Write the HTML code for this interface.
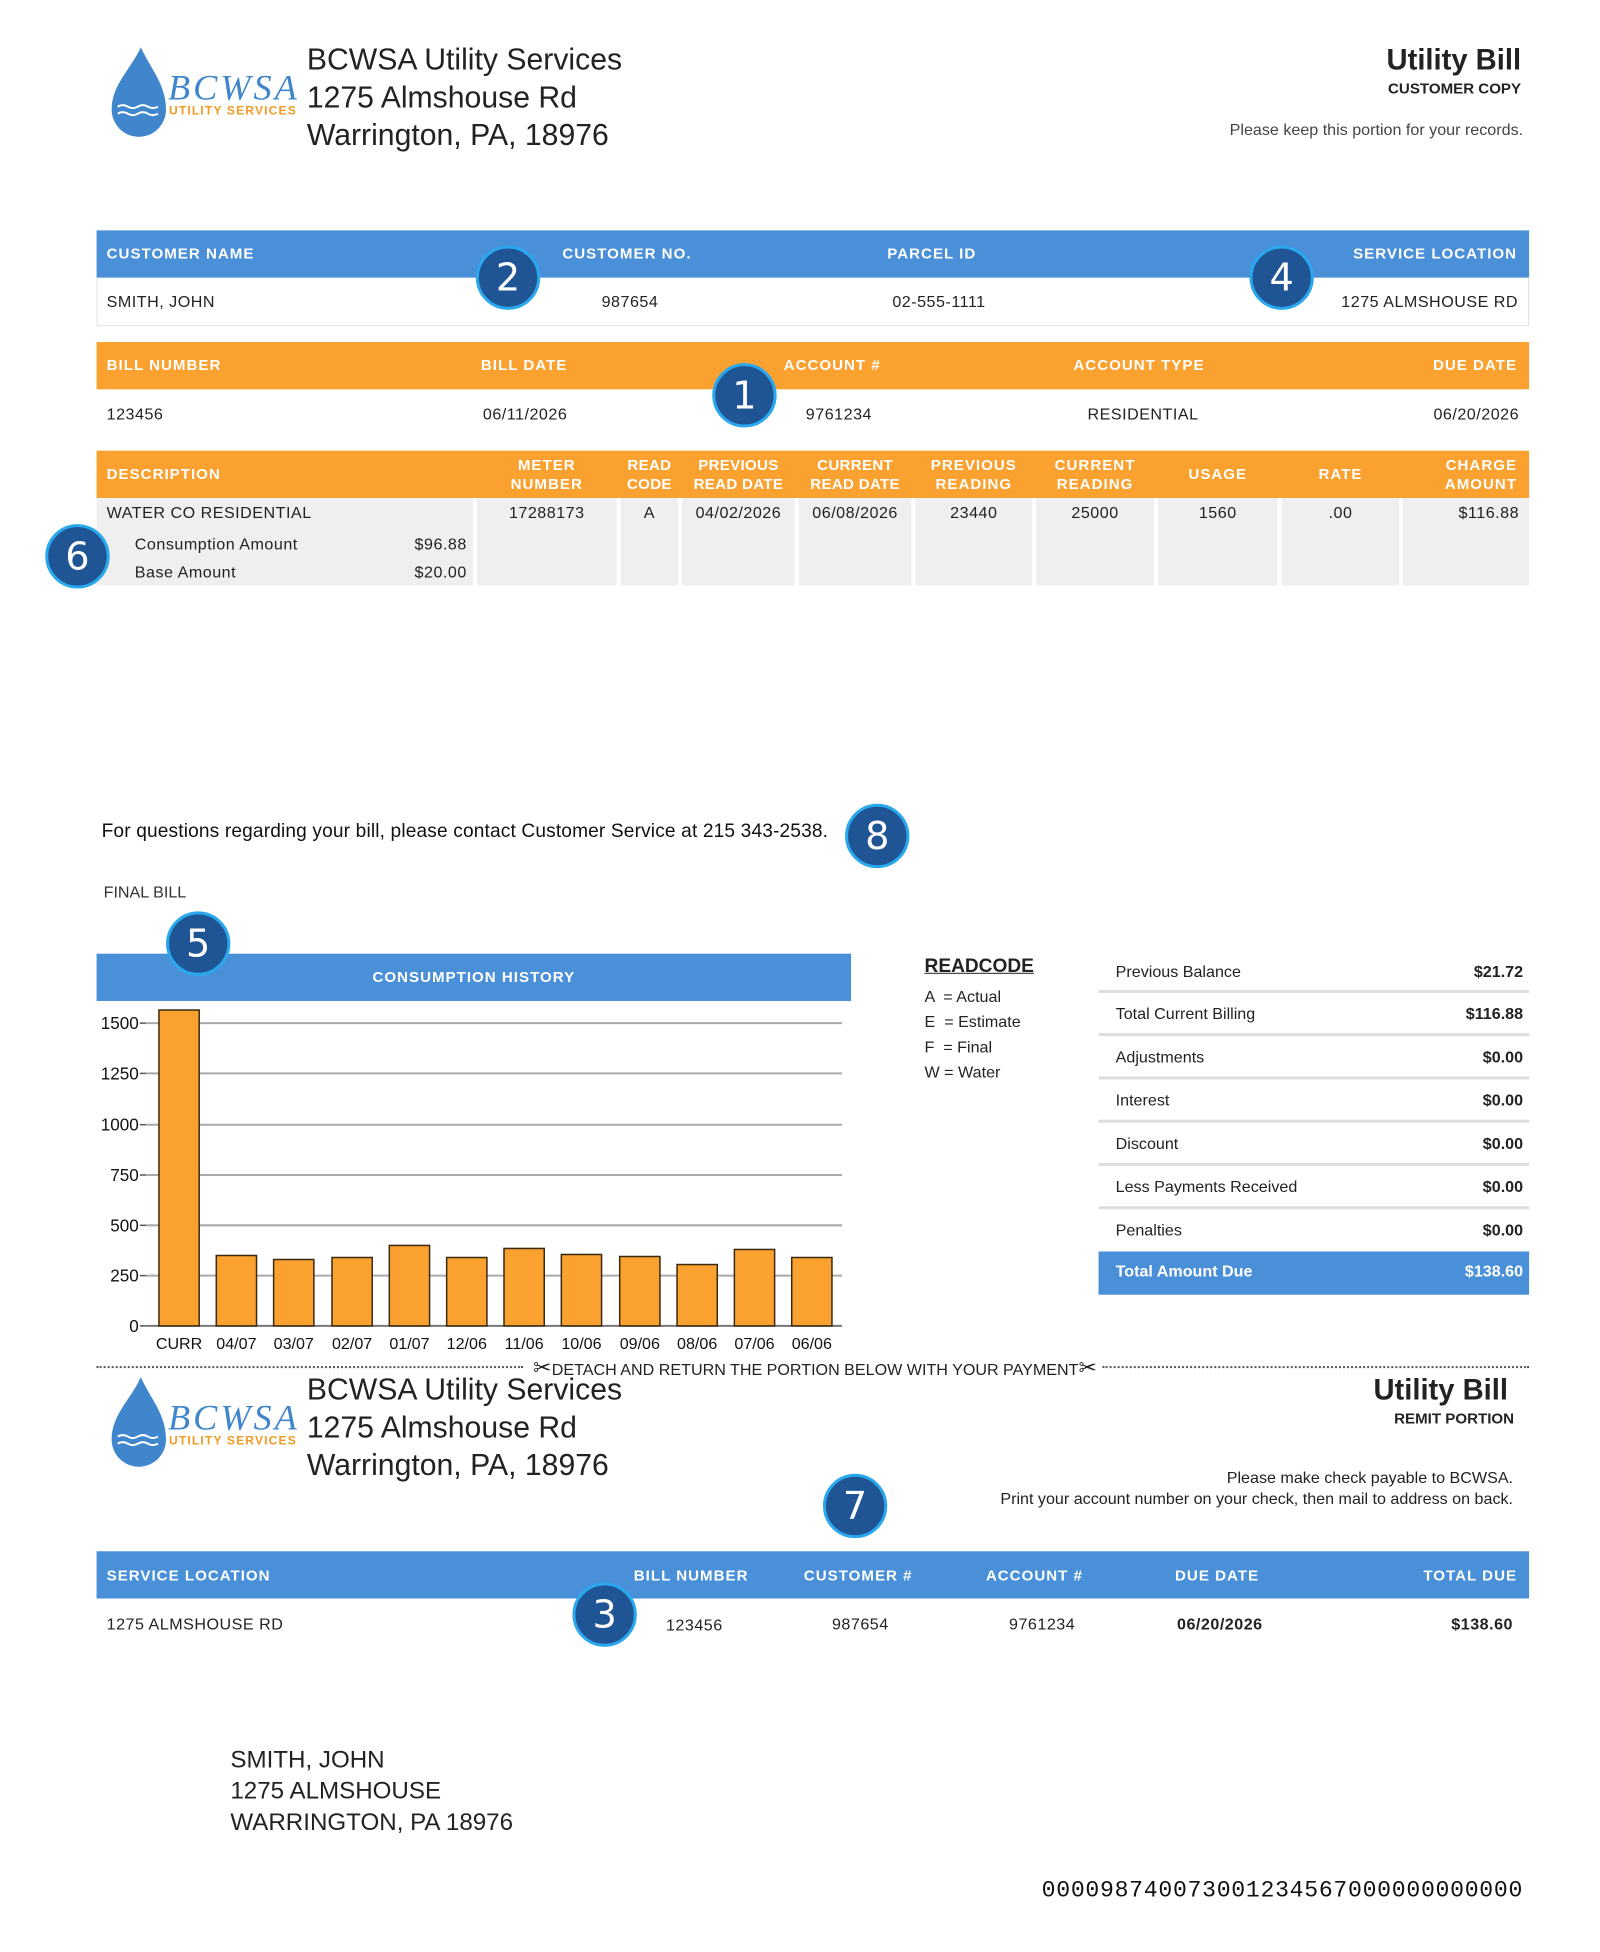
<!DOCTYPE html>
<html><head><meta charset="utf-8"><style>
body{margin:0;width:1600px;height:1940px;background:#fff;position:relative;font-family:"Liberation Sans",sans-serif;color:#222;overflow:hidden}
#w{position:absolute;left:0;top:0;width:1600px;height:1940px;transform:scale(1.006);transform-origin:0 0}
.a{position:absolute;white-space:nowrap}
.r{text-align:right}
.c{text-align:center}
.bar{position:absolute;left:96px;width:1424px;height:47px}
.blue{background:#4a90d9}
.org{background:#fba12f}
.h{position:absolute;color:#fff;font-weight:bold;font-size:15px;white-space:nowrap;letter-spacing:1px}
.v{position:absolute;font-size:16px;white-space:nowrap;color:#222;letter-spacing:0.5px}
.badge{position:absolute;width:58px;height:58px;border-radius:50%;background:#1f5595;border:3px solid #2aa8ee;color:#fff;font-size:38px;text-align:center;line-height:58px;font-family:"DejaVu Sans",sans-serif;letter-spacing:0}
.cell{position:absolute;top:495px;height:87px;background:#efefef}
.t1{font-size:30px;color:#222}
</style></head><body><div id="w">

<svg class="a" style="left:105px;top:44px" width="200" height="100" viewBox="0 0 200 100">
<path d="M35 3 C45 25 60 40 60 65 A27 27 0 0 1 6 65 C6 40 25 25 35 3Z" fill="#3f86cc"/>
<path d="M12 62 q5-3 10 0 t10 0 t10 0 t10 0" stroke="#fff" stroke-width="2" fill="none"/>
<path d="M12 69 q5-3 10 0 t10 0 t10 0 t10 0" stroke="#fff" stroke-width="2" fill="none"/>
<text x="62" y="55" font-family="Liberation Serif" font-style="italic" font-size="36" fill="#3f86cc" textLength="128">BCWSA</text>
<text x="63" y="70" font-family="Liberation Sans" font-weight="bold" font-size="12" fill="#f29a23" textLength="126">UTILITY SERVICES</text>
</svg>
<div class="a t1" style="left:305px;top:43px">BCWSA Utility Services</div>
<div class="a t1" style="left:305px;top:81px">1275 Almshouse Rd</div>
<div class="a t1" style="left:305px;top:118px">Warrington, PA, 18976</div>
<div class="a r" style="right:88px;top:44px;font-size:29px;font-weight:bold">Utility Bill</div>
<div class="a r" style="right:88px;top:80px;font-size:15px;font-weight:bold">CUSTOMER COPY</div>
<div class="a r" style="right:86px;top:121px;font-size:16px;color:#444">Please keep this portion for your records.</div>

<div class="bar blue" style="top:229px"></div>
<div class="a" style="left:96px;top:276px;width:1422px;height:47px;border:1px solid #e2e2e2;border-top:none"></div>
<div class="h" style="left:106px;top:244px">CUSTOMER NAME</div>
<div class="h" style="left:559px;top:244px">CUSTOMER NO.</div>
<div class="h" style="left:882px;top:244px">PARCEL ID</div>
<div class="h r" style="right:92px;top:244px">SERVICE LOCATION</div>
<div class="v" style="left:106px;top:292px">SMITH, JOHN</div>
<div class="v" style="left:598px;top:292px">987654</div>
<div class="v" style="left:887px;top:292px">02-555-1111</div>
<div class="v r" style="right:91px;top:292px">1275 ALMSHOUSE RD</div>

<div class="bar org" style="top:340px"></div>
<div class="h" style="left:106px;top:355px">BILL NUMBER</div>
<div class="h" style="left:478px;top:355px">BILL DATE</div>
<div class="h" style="left:779px;top:355px">ACCOUNT #</div>
<div class="h" style="left:1067px;top:355px">ACCOUNT TYPE</div>
<div class="h r" style="right:92px;top:355px">DUE DATE</div>
<div class="v" style="left:106px;top:404px">123456</div>
<div class="v" style="left:480px;top:404px">06/11/2026</div>
<div class="v" style="left:801px;top:404px">9761234</div>
<div class="v" style="left:1081px;top:404px">RESIDENTIAL</div>
<div class="v r" style="right:90px;top:404px">06/20/2026</div>

<div class="bar org" style="top:448px"></div>
<div class="cell" style="left:96px;width:374px"></div>
<div class="cell" style="left:474px;width:139px"></div>
<div class="cell" style="left:617px;width:57px"></div>
<div class="cell" style="left:678px;width:112px"></div>
<div class="cell" style="left:794px;width:112px"></div>
<div class="cell" style="left:910px;width:116px"></div>
<div class="cell" style="left:1030px;width:117px"></div>
<div class="cell" style="left:1151px;width:119px"></div>
<div class="cell" style="left:1274px;width:117px"></div>
<div class="cell" style="left:1394px;width:126px"></div>
<div class="h" style="left:106px;top:463px">DESCRIPTION</div>
<div class="h c" style="left:474px;width:139px;top:453px;line-height:19px">METER<br>NUMBER</div>
<div class="h c" style="left:617px;width:57px;top:453px;line-height:19px;letter-spacing:0.3px">READ<br>CODE</div>
<div class="h c" style="left:678px;width:112px;top:453px;line-height:19px;letter-spacing:0.3px">PREVIOUS<br>READ DATE</div>
<div class="h c" style="left:794px;width:112px;top:453px;line-height:19px;letter-spacing:0.3px">CURRENT<br>READ DATE</div>
<div class="h c" style="left:910px;width:116px;top:453px;line-height:19px">PREVIOUS<br>READING</div>
<div class="h c" style="left:1030px;width:117px;top:453px;line-height:19px">CURRENT<br>READING</div>
<div class="h c" style="left:1151px;width:119px;top:463px">USAGE</div>
<div class="h c" style="left:1274px;width:117px;top:463px">RATE</div>
<div class="h r" style="right:92px;top:453px;line-height:19px">CHARGE<br>AMOUNT</div>
<div class="v" style="left:106px;top:502px">WATER CO RESIDENTIAL</div>
<div class="v" style="left:134px;top:533px">Consumption Amount</div>
<div class="v r" style="right:1136px;top:533px">$96.88</div>
<div class="v" style="left:134px;top:561px">Base Amount</div>
<div class="v r" style="right:1136px;top:561px">$20.00</div>
<div class="v c" style="left:474px;width:139px;top:502px">17288173</div>
<div class="v c" style="left:617px;width:57px;top:502px">A</div>
<div class="v c" style="left:678px;width:112px;top:502px">04/02/2026</div>
<div class="v c" style="left:794px;width:112px;top:502px">06/08/2026</div>
<div class="v c" style="left:910px;width:116px;top:502px">23440</div>
<div class="v c" style="left:1030px;width:117px;top:502px">25000</div>
<div class="v c" style="left:1151px;width:119px;top:502px">1560</div>
<div class="v c" style="left:1274px;width:117px;top:502px">.00</div>
<div class="v r" style="right:90px;top:502px">$116.88</div>

<div class="a" style="left:101px;top:816px;font-size:19px;color:#111;letter-spacing:0.15px">For questions regarding your bill, please contact Customer Service at 215 343-2538.</div>
<div class="a" style="left:103px;top:879px;font-size:16px;color:#333">FINAL BILL</div>

<div class="a blue" style="left:96px;top:948px;width:750px;height:47px"></div>
<div class="h c" style="left:96px;width:750px;top:963px">CONSUMPTION HISTORY</div>
<svg class="a" style="left:0;top:990px" width="860" height="370">
<g font-family="Liberation Sans" font-size="17" fill="#111" text-anchor="end">
<g stroke="#aaa" stroke-width="2">
<line x1="145" x2="837" y1="27" y2="27"/><line x1="145" x2="837" y1="77" y2="77"/>
<line x1="145" x2="837" y1="128" y2="128"/><line x1="145" x2="837" y1="178" y2="178"/>
<line x1="145" x2="837" y1="228" y2="228"/><line x1="145" x2="837" y1="278" y2="278"/>
</g>
<line x1="145" x2="837" y1="328" y2="328" stroke="#777" stroke-width="2"/>
<g stroke="#555" stroke-width="1.5">
<line x1="139" x2="145" y1="27" y2="27"/><line x1="139" x2="145" y1="77" y2="77"/><line x1="139" x2="145" y1="128" y2="128"/><line x1="139" x2="145" y1="178" y2="178"/><line x1="139" x2="145" y1="228" y2="228"/><line x1="139" x2="145" y1="278" y2="278"/><line x1="139" x2="145" y1="328" y2="328"/></g>
<text x="138" y="33">1500</text><text x="138" y="83">1250</text><text x="138" y="134">1000</text><text x="138" y="184">750</text><text x="138" y="234">500</text><text x="138" y="284">250</text><text x="138" y="334">0</text>
</g>
<g fill="#fba12f" stroke="#3a2a10" stroke-width="1.5">
<rect x="158" y="14" width="40" height="314"/>
<rect x="215" y="258" width="40" height="70"/>
<rect x="272" y="262" width="40" height="66"/>
<rect x="330" y="260" width="40" height="68"/>
<rect x="387" y="248" width="40" height="80"/>
<rect x="444" y="260" width="40" height="68"/>
<rect x="501" y="251" width="40" height="77"/>
<rect x="558" y="257" width="40" height="71"/>
<rect x="616" y="259" width="40" height="69"/>
<rect x="673" y="267" width="40" height="61"/>
<rect x="730" y="252" width="40" height="76"/>
<rect x="787" y="260" width="40" height="68"/>
</g>
<g font-family="Liberation Sans" font-size="16" fill="#111" text-anchor="middle">
<text x="178" y="351">CURR</text><text x="235" y="351">04/07</text><text x="292" y="351">03/07</text><text x="350" y="351">02/07</text><text x="407" y="351">01/07</text><text x="464" y="351">12/06</text><text x="521" y="351">11/06</text><text x="578" y="351">10/06</text><text x="636" y="351">09/06</text><text x="693" y="351">08/06</text><text x="750" y="351">07/06</text><text x="807" y="351">06/06</text>
</g>
</svg>

<div class="a" style="left:919px;top:950px;font-size:19px;font-weight:bold;text-decoration:underline;color:#222">READCODE</div>
<div class="a" style="left:919px;top:979px;font-size:16px;line-height:25px">A &nbsp;= Actual<br>E &nbsp;= Estimate<br>F &nbsp;= Final<br>W = Water</div>

<div class="a" style="left:1092px;top:944px;width:428px;font-size:16px">
<div style="height:40px;border-bottom:3px solid #ddd;position:relative"><span style="position:absolute;left:17px;top:14px">Previous Balance</span><b style="position:absolute;right:6px;top:14px">$21.72</b></div>
<div style="height:40px;border-bottom:3px solid #ddd;position:relative"><span style="position:absolute;left:17px;top:13px">Total Current Billing</span><b style="position:absolute;right:6px;top:13px">$116.88</b></div>
<div style="height:40px;border-bottom:3px solid #ddd;position:relative"><span style="position:absolute;left:17px;top:13px">Adjustments</span><b style="position:absolute;right:6px;top:13px">$0.00</b></div>
<div style="height:40px;border-bottom:3px solid #ddd;position:relative"><span style="position:absolute;left:17px;top:13px">Interest</span><b style="position:absolute;right:6px;top:13px">$0.00</b></div>
<div style="height:40px;border-bottom:3px solid #ddd;position:relative"><span style="position:absolute;left:17px;top:13px">Discount</span><b style="position:absolute;right:6px;top:13px">$0.00</b></div>
<div style="height:40px;border-bottom:3px solid #ddd;position:relative"><span style="position:absolute;left:17px;top:13px">Less Payments Received</span><b style="position:absolute;right:6px;top:13px">$0.00</b></div>
<div style="height:42px;position:relative"><span style="position:absolute;left:17px;top:13px">Penalties</span><b style="position:absolute;right:6px;top:13px">$0.00</b></div>
<div style="height:43px;background:#4a90d9;color:#fff;font-weight:bold;position:relative"><span style="position:absolute;left:17px;top:12px">Total Amount Due</span><span style="position:absolute;right:6px;top:12px">$138.60</span></div>
</div>

<div class="a" style="left:96px;top:1358px;width:424px;border-top:2px dotted #555"></div>
<div class="a" style="left:1096px;top:1358px;width:424px;border-top:2px dotted #555"></div>
<div class="a" style="left:530px;top:1347px;font-size:16px;color:#222"><span style="font-size:22px">✂</span>DETACH AND RETURN THE PORTION BELOW WITH YOUR PAYMENT<span style="font-size:22px">✂</span></div>

<svg class="a" style="left:105px;top:1366px" width="200" height="100" viewBox="0 0 200 100">
<path d="M35 3 C45 25 60 40 60 65 A27 27 0 0 1 6 65 C6 40 25 25 35 3Z" fill="#3f86cc"/>
<path d="M12 62 q5-3 10 0 t10 0 t10 0 t10 0" stroke="#fff" stroke-width="2" fill="none"/>
<path d="M12 69 q5-3 10 0 t10 0 t10 0 t10 0" stroke="#fff" stroke-width="2" fill="none"/>
<text x="62" y="55" font-family="Liberation Serif" font-style="italic" font-size="36" fill="#3f86cc" textLength="128">BCWSA</text>
<text x="63" y="70" font-family="Liberation Sans" font-weight="bold" font-size="12" fill="#f29a23" textLength="126">UTILITY SERVICES</text>
</svg>
<div class="a t1" style="left:305px;top:1365px">BCWSA Utility Services</div>
<div class="a t1" style="left:305px;top:1403px">1275 Almshouse Rd</div>
<div class="a t1" style="left:305px;top:1440px">Warrington, PA, 18976</div>
<div class="a r" style="right:101px;top:1366px;font-size:29px;font-weight:bold">Utility Bill</div>
<div class="a r" style="right:95px;top:1402px;font-size:15px;font-weight:bold">REMIT PORTION</div>
<div class="a r" style="right:96px;top:1461px;font-size:16px">Please make check payable to BCWSA.</div>
<div class="a r" style="right:96px;top:1482px;font-size:16px">Print your account number on your check, then mail to address on back.</div>

<div class="bar blue" style="top:1542px"></div>
<div class="h" style="left:106px;top:1558px">SERVICE LOCATION</div>
<div class="h" style="left:630px;top:1558px">BILL NUMBER</div>
<div class="h" style="left:799px;top:1558px">CUSTOMER #</div>
<div class="h" style="left:980px;top:1558px">ACCOUNT #</div>
<div class="h" style="left:1168px;top:1558px">DUE DATE</div>
<div class="h r" style="right:92px;top:1558px">TOTAL DUE</div>
<div class="v" style="left:106px;top:1607px">1275 ALMSHOUSE RD</div>
<div class="v" style="left:662px;top:1608px">123456</div>
<div class="v" style="left:827px;top:1607px">987654</div>
<div class="v" style="left:1003px;top:1607px">9761234</div>
<div class="v" style="left:1170px;top:1607px;font-weight:bold">06/20/2026</div>
<div class="v r" style="right:96px;top:1607px;font-weight:bold">$138.60</div>

<div class="a" style="left:229px;top:1734px;font-size:24px;line-height:31px;color:#222">SMITH, JOHN<br>1275 ALMSHOUSE<br>WARRINGTON, PA 18976</div>
<div class="a r" style="right:86px;top:1866px;font-size:23px;font-family:'Liberation Mono',monospace;letter-spacing:0.7px;color:#111">000098740073001234567000000000000</div>

<div class="badge" style="left:473px;top:244px">2</div>
<div class="badge" style="left:1242px;top:244px">4</div>
<div class="badge" style="left:708px;top:361px">1</div>
<div class="badge" style="left:45px;top:521px">6</div>
<div class="badge" style="left:840px;top:799px">8</div>
<div class="badge" style="left:165px;top:906px">5</div>
<div class="badge" style="left:818px;top:1465px">7</div>
<div class="badge" style="left:569px;top:1573px">3</div>
</div></body></html>
